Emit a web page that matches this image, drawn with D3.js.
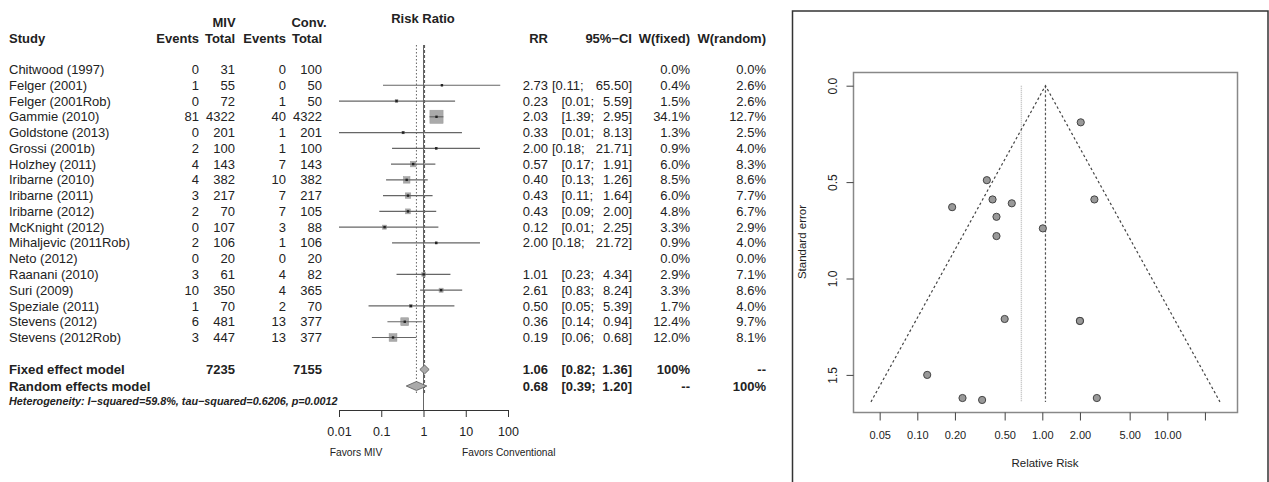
<!DOCTYPE html>
<html>
<head>
<meta charset="utf-8">
<script src="https://cdn.jsdelivr.net/npm/d3@7"></script>
<style>
  body { margin: 0; background: #fff; }
  svg { font-family: "Liberation Sans", Arial, sans-serif; }
  text { fill: #222; }
</style>
</head>
<body>
<div id="vis"></div>
<script>
// ---- data ----
const studies = ["Chitwood (1997)", "Felger (2001)", "Felger (2001Rob)", "Gammie (2010)", "Goldstone (2013)",
  "Grossi (2001b)", "Holzhey (2011)", "Iribarne (2010)", "Iribarne (2011)", "Iribarne (2012)", "McKnight (2012)",
  "Mihaljevic (2011Rob)", "Neto (2012)", "Raanani (2010)", "Suri (2009)", "Speziale (2011)", "Stevens (2012)",
  "Stevens (2012Rob)"];
const mivEvents = [0, 1, 0, 81, 0, 2, 4, 4, 3, 2, 0, 2, 0, 3, 10, 1, 6, 3];
const mivTotal = [31, 55, 72, 4322, 201, 100, 143, 382, 217, 70, 107, 106, 20, 61, 350, 70, 481, 447];
const convEvents = [0, 0, 1, 40, 1, 1, 7, 10, 7, 7, 3, 1, 0, 4, 4, 2, 13, 13];
const convTotal = [100, 50, 50, 4322, 201, 100, 143, 382, 217, 105, 88, 106, 20, 82, 365, 70, 377, 377];
const rr = [null, 2.73, 0.23, 2.03, 0.33, 2.00, 0.57, 0.40, 0.43, 0.43, 0.12, 2.00, null, 1.01, 2.61, 0.50, 0.36, 0.19];
const ciLow = [null, 0.11, 0.01, 1.39, 0.01, 0.18, 0.17, 0.13, 0.11, 0.09, 0.01, 0.18, null, 0.23, 0.83, 0.05, 0.14, 0.06];
const ciHigh = [null, 65.50, 5.59, 2.95, 8.13, 21.71, 1.91, 1.26, 1.64, 2.00, 2.25, 21.72, null, 4.34, 8.24, 5.39, 0.94, 0.68];
const wFixed = [0.0, 0.4, 1.5, 34.1, 1.3, 0.9, 6.0, 8.5, 6.0, 4.8, 3.3, 0.9, 0.0, 2.9, 3.3, 1.7, 12.4, 12.0];
const wRandom = [0.0, 2.6, 2.6, 12.7, 2.5, 4.0, 8.3, 8.6, 7.7, 6.7, 2.9, 4.0, 0.0, 7.1, 8.6, 4.0, 9.7, 8.1];

const models = ["Fixed effect model", "Random effects model"];
const modelRR = [1.06, 0.68];
const modelLow = [0.82, 0.39];
const modelHigh = [1.36, 1.20];
const modelTotals = [7235, 7155];
const modelWFixed = ["100%", "--"];
const modelWRandom = ["--", "100%"];
const hetText = "Heterogeneity: I\u2212squared=59.8%, tau\u2212squared=0.6206, p=0.0012";

const forestTicks = [0.01, 0.1, 1, 10, 100];
const forestTickLabels = ["0.01", "0.1", "1", "10", "100"];

// funnel plot points (relative risk, standard error)
const funnelRR = [2.03, 0.36, 0.40, 0.57, 0.19, 2.61, 0.43, 1.01, 0.43, 0.50, 2.00, 2.00, 0.12, 0.23, 0.33, 2.73];
const funnelSE = [0.19, 0.49, 0.59, 0.61, 0.63, 0.59, 0.68, 0.74, 0.78, 1.21, 1.22, 1.22, 1.50, 1.62, 1.63, 1.62];
const funnelXTicks = [0.05, 0.1, 0.2, 0.5, 1, 2, 5, 10, 20];
const funnelXLabels = ["0.05", "0.10", "0.20", "0.50", "1.00", "2.00", "5.00", "10.00", ""];
const funnelYTicks = [0, 0.5, 1.0, 1.5];
const funnelSEMax = 1.64;

// ---- frame ----
const WIDTH = 1269, HEIGHT = 482;
const svg = d3.select("#vis").append("svg")
  .attr("width", WIDTH).attr("height", HEIGHT);
svg.append("rect").attr("width", WIDTH).attr("height", HEIGHT).attr("fill", "#fff");

// ================= forest plot =================
const F = svg.append("g");
const X = d3.scaleLog().domain([0.01, 100]).range([339, 508]);
const ROW = d3.scaleLinear().domain([0, 17]).range([69.5, 337.5]);
const MODEL_Y = [369.5, 386];
const FS = 13;

function txt(g, x, y, s, anchor, size, weight, style) {
  return g.append("text").attr("x", x).attr("y", y).attr("dy", "0.35em")
    .attr("text-anchor", anchor || "start")
    .attr("font-size", size || FS)
    .attr("font-weight", weight || "normal")
    .attr("font-style", style || "normal")
    .text(s);
}
// CI text: "[lo;" then upper right-aligned; shorter upper bounds shift the bracket right
function ciTxt(y, lo, hi, weight) {
  const shift = hi < 10 ? 9.5 : 0;
  txt(F, 552 + shift, y, "[" + lo.toFixed(2) + ";", "start", FS, weight);
  txt(F, 632, y, hi.toFixed(2) + "]", "end", FS, weight);
}

// headers
txt(F, 224, 22, "MIV", "middle", FS, "bold");
txt(F, 309, 22, "Conv.", "middle", FS, "bold");
txt(F, 423, 18, "Risk Ratio", "middle", FS, "bold");
txt(F, 9, 38, "Study", "start", FS, "bold");
txt(F, 199, 38, "Events", "end", FS, "bold");
txt(F, 235, 38, "Total", "end", FS, "bold");
txt(F, 286, 38, "Events", "end", FS, "bold");
txt(F, 322, 38, "Total", "end", FS, "bold");
txt(F, 548, 38, "RR", "end", FS, "bold");
txt(F, 632, 38, "95%\u2212CI", "end", FS, "bold");
txt(F, 690, 38, "W(fixed)", "end", FS, "bold");
txt(F, 766, 38, "W(random)", "end", FS, "bold");

// study rows
studies.forEach((s, i) => {
  const y = ROW(i);
  txt(F, 9, y, s);
  txt(F, 199, y, mivEvents[i], "end");
  txt(F, 235, y, mivTotal[i], "end");
  txt(F, 286, y, convEvents[i], "end");
  txt(F, 322, y, convTotal[i], "end");
  if (rr[i] != null) {
    txt(F, 548, y, rr[i].toFixed(2), "end");
    ciTxt(y, ciLow[i], ciHigh[i]);
  }
  txt(F, 690, y, wFixed[i].toFixed(1) + "%", "end");
  txt(F, 766, y, wRandom[i].toFixed(1) + "%", "end");
});

// model rows
models.forEach((m, i) => {
  const y = MODEL_Y[i];
  txt(F, 9, y, m, "start", 13.2, "bold");
  txt(F, 548, y, modelRR[i].toFixed(2), "end", FS, "bold");
  ciTxt(y, modelLow[i], modelHigh[i], "bold");
  txt(F, 690, y, modelWFixed[i], "end", FS, "bold");
  txt(F, 766, y, modelWRandom[i], "end", FS, "bold");
});
txt(F, 235, MODEL_Y[0], modelTotals[0], "end", FS, "bold");
txt(F, 322, MODEL_Y[0], modelTotals[1], "end", FS, "bold");
txt(F, 9, 401, hetText, "start", 10.8, "bold", "italic");

// reference lines
F.append("line").attr("x1", X(1)).attr("x2", X(1)).attr("y1", 45).attr("y2", 410)
  .attr("stroke", "#666").attr("stroke-width", 1);
F.append("line").attr("x1", X(modelRR[0])).attr("x2", X(modelRR[0])).attr("y1", 45).attr("y2", 395)
  .attr("stroke", "#555").attr("stroke-dasharray", "3,2");
F.append("line").attr("x1", X(modelRR[1])).attr("x2", X(modelRR[1])).attr("y1", 45).attr("y2", 395)
  .attr("stroke", "#666").attr("stroke-dasharray", "1.5,2");

// CIs and boxes
const BOX = d3.scaleSqrt().domain([0, 34.1]).range([0, 13.2]);
studies.forEach((s, i) => {
  if (rr[i] == null) return;
  const y = ROW(i);
  const b = BOX(wFixed[i]);
  F.append("rect").attr("x", X(rr[i]) - b / 2).attr("y", y - b / 2)
    .attr("width", b).attr("height", b).attr("fill", "#aaa").attr("stroke", "#999").attr("stroke-width", 0.5);
  F.append("line").attr("x1", X(ciLow[i])).attr("x2", X(ciHigh[i])).attr("y1", y).attr("y2", y)
    .attr("stroke", "#666").attr("stroke-width", 1.2);
  F.append("rect").attr("x", X(rr[i]) - 1.2).attr("y", y - 1.2)
    .attr("width", 2.4).attr("height", 2.4).attr("fill", "#222");
});

// diamonds
models.forEach((m, i) => {
  const y = MODEL_Y[i];
  const pts = [[X(modelLow[i]), y], [X(modelRR[i]), y - 4.5], [X(modelHigh[i]), y], [X(modelRR[i]), y + 4.5]];
  F.append("polygon").attr("points", pts.map(p => p.join(",")).join(" "))
    .attr("fill", "#aaa").attr("stroke", "#555").attr("stroke-width", 0.8);
});

// axis
const fAxis = F.append("g").attr("transform", "translate(0,410)")
  .call(d3.axisBottom(X).tickValues(forestTicks).tickFormat((d, i) => forestTickLabels[i]).tickSize(7).tickSizeOuter(0));
fAxis.select(".domain").attr("stroke", "#333");
fAxis.selectAll(".tick line").attr("stroke", "#333");
fAxis.selectAll(".tick text").attr("font-size", 12.5).attr("fill", "#222").attr("dy", "1.25em")
  .attr("font-family", "Liberation Sans, Arial, sans-serif");
txt(F, 356, 452, "Favors MIV", "middle", 10.3);
txt(F, 462, 452, "Favors Conventional", "start", 10.2);

// ================= funnel plot =================
const G = svg.append("g");
G.append("rect").attr("x", 792.5).attr("y", 11).attr("width", 475.5).attr("height", 480)
  .attr("fill", "none").attr("stroke", "#333").attr("stroke-width", 1.5);

const FX = d3.scaleLog().domain([0.01, 100]).range([1042.3 - 250, 1042.3 + 250]);
const FY = d3.scaleLinear().domain([0, 1.5]).range([85.7, 374.9]);

G.append("rect").attr("x", 853.5).attr("y", 72.5).attr("width", 384).attr("height", 340)
  .attr("fill", "none").attr("stroke", "#888").attr("stroke-width", 1.5);

// vertical lines
G.append("line").attr("x1", FX(modelRR[1])).attr("x2", FX(modelRR[1])).attr("y1", FY(0)).attr("y2", FY(funnelSEMax))
  .attr("stroke", "#bbb").attr("stroke-width", 1.4).attr("stroke-dasharray", "1,1");
G.append("line").attr("x1", FX(modelRR[0])).attr("x2", FX(modelRR[0])).attr("y1", FY(0)).attr("y2", FY(funnelSEMax))
  .attr("stroke", "#555").attr("stroke-width", 1.2).attr("stroke-dasharray", "2.5,2");

// funnel limits
const lc = Math.log(modelRR[0]);
const funnel = [[Math.exp(lc - 1.96 * funnelSEMax), funnelSEMax], [modelRR[0], 0], [Math.exp(lc + 1.96 * funnelSEMax), funnelSEMax]];
G.append("path").attr("d", d3.line().x(d => FX(d[0])).y(d => FY(d[1]))(funnel))
  .attr("fill", "none").attr("stroke", "#444").attr("stroke-width", 1.2).attr("stroke-dasharray", "2.5,2.5");

// points
G.selectAll("circle.pt").data(funnelRR).enter().append("circle")
  .attr("class", "pt")
  .attr("cx", d => FX(d)).attr("cy", (d, i) => FY(funnelSE[i]))
  .attr("r", 3.6).attr("fill", "#999").attr("stroke", "#444").attr("stroke-width", 1);

// x axis
const gx = G.append("g").attr("transform", "translate(0,412.5)")
  .call(d3.axisBottom(FX).tickValues(funnelXTicks).tickFormat((d, i) => funnelXLabels[i]).tickSize(8));
gx.select(".domain").remove();
gx.selectAll(".tick line").attr("stroke", "#444");
gx.selectAll(".tick text").attr("font-size", 11).attr("fill", "#222").attr("dy", "1.45em")
  .attr("font-family", "Liberation Sans, Arial, sans-serif");

// y axis
const gy = G.append("g").attr("transform", "translate(853.5,0)")
  .call(d3.axisLeft(FY).tickValues(funnelYTicks).tickFormat(d3.format(".1f")).tickSize(7));
gy.select(".domain").remove();
gy.selectAll(".tick line").attr("stroke", "#444");
gy.selectAll(".tick text").attr("font-size", 12).attr("fill", "#222")
  .attr("font-family", "Liberation Sans, Arial, sans-serif")
  .attr("text-anchor", "middle").attr("x", 0).attr("dy", 0)
  .attr("transform", "translate(-17,0) rotate(-90)");

G.append("text").attr("transform", "translate(802,242) rotate(-90)")
  .attr("text-anchor", "middle").attr("dy", "0.35em").attr("font-size", 11.5).text("Standard error");
G.append("text").attr("x", 1045).attr("y", 463).attr("text-anchor", "middle").attr("dy", "0.35em")
  .attr("font-size", 11.5).text("Relative Risk");
</script>
</body>
</html>
